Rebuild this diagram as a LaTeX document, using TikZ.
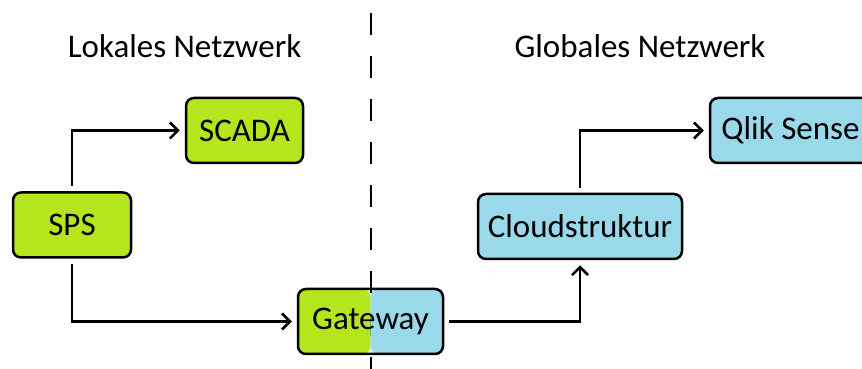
\documentclass[tikz,border=0pt]{standalone}
\usepackage{fontspec}
\setmainfont{Carlito}
\usetikzlibrary{arrows.meta}
\definecolor{lime}{RGB}{181,230,29}
\definecolor{sky}{RGB}{153,217,234}
\begin{document}
\begin{tikzpicture}[x=1pt,y=1pt,
 box/.style={draw=black, line width=2.5pt, rounded corners=8pt, minimum height=65pt, inner sep=0pt, font=\fontsize{33}{40}\selectfont},
 gbox/.style={box, fill=lime},
 bbox/.style={box, fill=sky},
 conn/.style={line width=2.5pt, shorten <=5pt, shorten >=5pt, -{Straight Barb[length=8pt,width=16pt,line width=2.5pt]}},
 title/.style={font=\fontsize{33}{40}\selectfont, anchor=base},
 divider/.style={line width=2.5pt, dash pattern=on 22pt off 21pt}]
\useasboundingbox (0,0) rectangle (862,369);
\clip (0,0) rectangle (862,369);
\coordinate (dtop) at (371,356);
\coordinate (dbot) at (371,0);
\draw[divider] (dtop) -- (dbot);
\node[title] (lokal) at (184.5,311) {Lokales Netzwerk};
\node[title] (global) at (640,311) {Globales Netzwerk};
\node[gbox, minimum width=118pt] (sps) at (72,144) {SPS};
\node[gbox, minimum width=117pt] (scada) at (244.5,238.5) {SCADA};
\node[box, minimum width=145pt, path picture={
  \fill[lime] (path picture bounding box.south west) rectangle (path picture bounding box.north);
  \fill[sky] (path picture bounding box.north) rectangle (path picture bounding box.south east);}] (gw) at (370.5,47.5) {Gateway};
\node[bbox, minimum width=204pt] (cloud) at (580,142.5) {Cloudstruktur};
\node[bbox, minimum width=161pt] (qlik) at (790.5,238.5) {Qlik Sense};
\draw[conn] (sps.north) |- (scada.west);
\draw[conn] (sps.south) |- (gw.west);
\draw[conn] (gw.east) -| (cloud.south);
\draw[conn] (cloud.north) |- (qlik.west);
\end{tikzpicture}
\end{document}
